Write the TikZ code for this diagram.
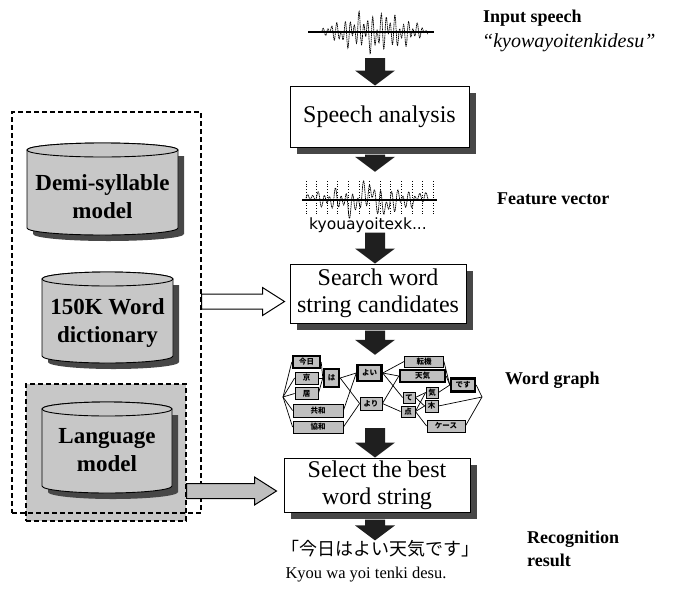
\documentclass[tikz,border=0pt]{standalone}
\usepackage{fontspec}
\setmainfont{Liberation Serif}
\newfontfamily\cjk{Noto Sans CJK JP}
\newfontfamily\sansfont{DejaVu Sans}
\usetikzlibrary{calc,shadows}

\tikzset{
  procbox/.style={draw, line width=1pt, fill=white, inner sep=0pt, align=center,
    font=\fontsize{24}{27}\selectfont,
    drop shadow={shadow xshift=7pt, shadow yshift=-7pt, fill=black!72, opacity=1}},
  cyltext/.style={align=center, inner sep=0pt, font=\bfseries\fontsize{23}{28}\selectfont},
  cylbody/.style={draw, line width=0.9pt, fill=black!22},
  cylshadow/.style={fill=black!72},
  grpbox/.style={draw, dashed, line width=1.1pt, dash pattern=on 5pt off 3pt, inner sep=0pt},
  label/.style={anchor=west, inner sep=0pt, font=\bfseries\fontsize{18}{23}\selectfont, align=left},
  blockarrow/.style={fill=black!88},
  wgbox/.style={draw, line width=0.8pt, fill=black!25, inner sep=0pt,
    font=\cjk\bfseries\fontsize{7.5}{7.5}\selectfont},
  wgsel/.style={line width=2.4pt},
  wgedge/.style={line width=0.7pt},
  wavepen/.style={line width=0.7pt, dash pattern=on 1.6pt off 0.6pt},
}

% block arrow pointing down, on the common flow axis
\newcommand\blockdown[2]{%
  \fill[blockarrow] let \p1=#1, \p2=#2, \p3=(axis) in
    (\x3-10pt,\y1) -- (\x3+10pt,\y1) -- (\x3+10pt,\y2+15pt) -- (\x3+20pt,\y2+15pt)
    -- (\x3,\y2) -- (\x3-20pt,\y2+15pt) -- (\x3-10pt,\y2+15pt) -- cycle;}

% outlined arrow pointing right: fill, tail (x used), tip
\newcommand\hollowright[3]{%
  \filldraw[fill=#1, line width=1pt, line join=miter] let \p1=#2, \p2=#3 in
    (\x1,\y2+7.5pt) -- (\x2-22pt,\y2+7.5pt) -- (\x2-22pt,\y2+14pt) -- (\x2,\y2)
    -- (\x2-22pt,\y2-14pt) -- (\x2-22pt,\y2-7.5pt) -- (\x1,\y2-7.5pt) -- cycle;}

% database cylinder: name, left x, right x, top rim y, bottom rim y, text centre y, text
\newcommand\dbcyl[7]{%
  \pgfmathsetmacro\cylr{(#3-#2)/2}%
  \pgfmathsetmacro\cylc{(#2+#3)/2}%
  \begin{scope}[shift={(6,6)}]
    \fill[cylshadow] (#2,#4) -- (#2,#5)
      arc[start angle=180, end angle=360, x radius=\cylr pt, y radius=7pt] -- (#3,#4) -- cycle;
  \end{scope}
  \filldraw[cylbody] (#2,#4) -- (#2,#5)
    arc[start angle=180, end angle=360, x radius=\cylr pt, y radius=7pt] -- (#3,#4)
    arc[start angle=0, end angle=180, x radius=\cylr pt, y radius=7pt] -- cycle;
  \filldraw[cylbody] (\cylc,#4) ellipse[x radius=\cylr pt, y radius=7pt];
  \node[cyltext] (#1) at (\cylc,#6) {#7};
}

% word-graph node: options, name, centre x, centre y, width, height, text
\newcommand\wg[7][]{%
  \node[wgbox, #1, minimum width=#5pt, minimum height=#6pt] (#2) at (#3,#4) {#7};}

\begin{document}
\begin{tikzpicture}[x=1pt, y=-1pt]
\useasboundingbox (0,0) rectangle (685,592);
\coordinate (axis) at (375,0);

% ---------- input waveform ----------
\node[minimum width=126pt, minimum height=45pt, inner sep=0pt] (wave1) at (371,35.5) {};
\draw[line width=1.3pt] (308,32) -- (434,32);
\draw[wavepen] plot[domain=0:1, samples=320, variable=\t]
  ({322+106*\t}, {32 - (3+17*sin(180*\t))*(0.6*sin(8500*\t)+0.4*sin(5300*\t+40)+0.15*sin(1300*\t))});

% ---------- speech analysis ----------
\node[procbox, minimum width=179pt, minimum height=61pt] (speech) at (379.5,116.5) {Speech analysis};

% ---------- feature vector ----------
\node[minimum width=136pt, minimum height=42pt, inner sep=0pt] (fv) at (369.5,193) {};
\foreach \k in {0,...,12}
  \draw[line width=0.7pt, dotted] ({306+10.6*\k},181) -- ({306+10.6*\k},214);
\draw[line width=1.2pt] (302,200) -- (437,200);
\draw[wavepen] plot[domain=0:1, samples=320, variable=\t]
  ({306+124*\t}, {200 - (4+12*sin(180*\t))*(0.55*sin(7900*\t+20)+0.35*sin(4900*\t)+0.3*sin(1500*\t+60)) - 3*sin(900*\t)});
\node[inner sep=0pt, font=\sansfont\fontsize{15.5}{15.5}\selectfont] (fvtext) at (368,225) {kyouayoitexk...};

% ---------- search box ----------
\node[procbox, minimum width=176pt, minimum height=59pt] (search) at (378,293.5) {Search word\\string candidates};

% ---------- word graph ----------
\node[minimum width=199pt, minimum height=73pt, inner sep=0pt] (graph) at (382.5,391.5) {};
\coordinate (gs) at (283,397);
\coordinate (ge) at (482,397);
\wg[wgsel]{w1}{306.5}{362}{27}{12}{今日}
\wg{w2}{306.5}{378}{23}{12}{京}
\wg{w3}{306.5}{393.5}{23}{12}{居}
\wg{w4}{318}{410.5}{50}{13}{共和}
\wg{w5}{318}{427}{50}{12}{協和}
\wg[wgsel]{w6}{331.5}{378}{15}{18}{は}
\wg[wgsel]{w7}{369.5}{373}{24}{16}{よい}
\wg{w8}{371}{403.5}{22}{13}{より}
\wg{w9}{424}{361.5}{39}{11}{転機}
\wg[wgsel]{w10}{422.5}{376}{45}{12}{天気}
\wg{w11}{409}{397.5}{12}{11}{て}
\wg{w12}{408}{411.5}{14}{11}{点}
\wg{w13}{432}{392.5}{12}{11}{気}
\wg{w14}{431.5}{406}{13}{12}{木}
\wg{w15}{446}{426}{38}{12}{ケース}
\wg[wgsel]{w16}{463}{385}{24}{13}{です}
\foreach \n in {w1,w2,w3,w4,w5} \draw[wgedge] (gs) -- (\n.west);
\foreach \a/\b in {w1/w6, w2/w6, w3/w6, w6/w7, w6/w8, w4/w7, w5/w8,
                   w7/w9, w7/w10, w7/w11, w8/w10, w8/w12,
                   w9/w16, w10/w16, w11/w13, w11/w14, w12/w13, w12/w14, w12/w15, w13/w16}
  \draw[wgedge] (\a.east) -- (\b.west);
\foreach \n in {w16,w15,w14} \draw[wgedge] (\n.east) -- (ge);

% ---------- select box ----------
\node[procbox, minimum width=186pt, minimum height=54pt] (select) at (377,485) {Select the best\\word string};

% ---------- result ----------
\node[inner sep=0pt, font=\cjk\fontsize{18}{18}\selectfont] (result) at (380.5,549) {「今日はよい天気です」};
\node[inner sep=0pt, font=\fontsize{16.5}{16.5}\selectfont] (reading) at (366,575) {Kyou wa yoi tenki desu.};

% ---------- flow arrows ----------
\blockdown{(wave1.south)}{(speech.north)}
\blockdown{([yshift=-7pt]speech.south)}{(fv.north)}
\blockdown{(fvtext.south)}{(search.north)}
\blockdown{([yshift=-7pt]search.south)}{(graph.north)}
\blockdown{(graph.south)}{(select.north)}
\blockdown{([yshift=-7pt]select.south)}{(result.north)}

% ---------- knowledge sources ----------
\node[grpbox, fill=black!22, minimum width=160pt, minimum height=137pt] (lmgrp) at (106,452.5) {};
\node[grpbox, minimum width=189pt, minimum height=401pt] (kb) at (106.5,312.5) {};
\dbcyl{demi}{27}{178}{150}{228}{197}{Demi-syllable\\model}
\dbcyl{dict}{42}{173}{279}{356}{323}{150K Word\\dictionary}
\dbcyl{lm}{42}{172}{409}{486}{450}{Language\\model}

\hollowright{white}{(kb.east)}{([xshift=-5pt,yshift=-8pt]search.west)}
\hollowright{black!25}{(lmgrp.east)}{([xshift=-7pt,yshift=-6pt]select.west)}

% ---------- stage labels ----------
\node[label] (l1) at (483,18) {Input speech};
\node[anchor=west, inner sep=0pt, font=\itshape\fontsize{20}{20}\selectfont] (l1b) at (482,43) {“kyowayoitenkidesu”};
\node[label] (l2) at (497,199) {Feature vector};
\node[label] (l3) at (505,380) {Word graph};
\node[label] (l4) at (527,548.5) {Recognition\\result};
\end{tikzpicture}
\end{document}
